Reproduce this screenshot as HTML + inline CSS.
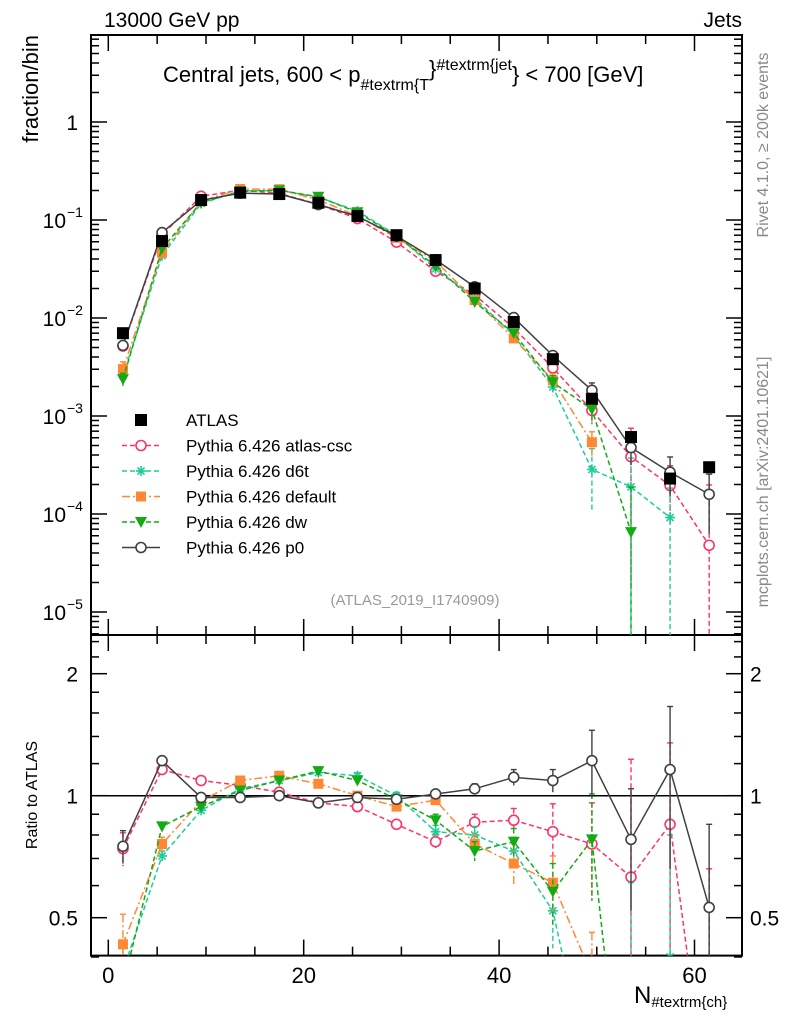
<!DOCTYPE html>
<html><head><meta charset="utf-8"><style>
html,body{margin:0;padding:0;background:#fff;overflow:hidden;width:786px;height:1024px}
svg{display:block;font-family:"Liberation Sans",sans-serif}
</style></head><body>
<svg id="c" width="786" height="1024" viewBox="0 0 786 1024"></svg>
<script>
const bins=[1.5,5.5,9.5,13.5,17.5,21.5,25.5,29.5,33.5,37.5,41.5,45.5,49.5,53.5,57.5,61.5];
const atlas=[7.0e-3,0.061,0.16,0.19,0.184,0.15,0.11,0.07,0.039,0.020,0.0091,0.0038,0.0015,6.1e-4,2.3e-4,3.0e-4];
const rCsc=[0.74,1.16,1.09,1.06,1.02,0.96,0.94,0.85,0.77,0.86,0.87,0.815,0.76,0.63,0.85,0.16];
const eCsc=[0.07,0.02,0.01,0.01,0.01,0.01,0.01,0.02,0.03,0.04,0.06,0.14,0.2,0.6,0.5,0.5];
const rD6t=[0.37,0.71,0.92,1.04,1.09,1.14,1.12,1.0,0.815,0.80,0.73,0.52,0.19,0.31,0.40,null];
const eD6t=[0.05,0.02,0.01,0.01,0.01,0.01,0.02,0.02,0.03,0.04,0.06,0.1,0.12,0.3,0.4,0];
const rDef=[0.43,0.76,0.97,1.09,1.12,1.07,1.0,0.94,0.975,0.76,0.68,0.61,0.36,null,null,null];
const eDef=[0.08,0.03,0.01,0.01,0.01,0.01,0.02,0.02,0.03,0.04,0.08,0.1,0.1,0,0,0];
const rDw=[0.34,0.84,0.94,1.03,1.09,1.15,1.09,0.98,0.87,0.73,0.77,0.58,0.78,0.107,null,null];
const eDw=[0.05,0.02,0.01,0.01,0.01,0.01,0.02,0.02,0.03,0.04,0.06,0.1,0.23,0.2,0,0];
const rP0=[0.75,1.22,0.99,0.99,1.0,0.96,0.99,0.98,1.01,1.04,1.11,1.09,1.22,0.78,1.16,0.53];
const eP0=[0.07,0.02,0.01,0.01,0.01,0.01,0.01,0.01,0.02,0.03,0.05,0.07,0.23,0.26,0.5,0.32];
const xTicks=[0,20,40,60];
const yExp=[0,-1,-2,-3,-4,-5];
const rTicks=[0.5,1,2];

const NS="http://www.w3.org/2000/svg";
const svg=document.getElementById('c');
const L=91,R=742,T=35,MB=635,RB=955.6;
const X=v=>108.3+9.77*v;
const Y=v=>122-98*Math.log10(v);
const YR=v=>795.7-122*Math.log2(v);
function el(tag,a,parent){const e=document.createElementNS(NS,tag);for(const k in a)e.setAttribute(k,a[k]);(parent||svg).appendChild(e);return e;}
function txt(s,a,parent){const e=el('text',a,parent);e.textContent=s;return e;}

const defs=el('defs',{});
const c1=el('clipPath',{id:'cm'},defs);el('rect',{x:L,y:T,width:R-L,height:MB-T},c1);
const c2=el('clipPath',{id:'cr'},defs);el('rect',{x:L,y:MB,width:R-L,height:RB-MB},c2);

const f1=el('rect',{x:L,y:T,width:R-L,height:MB-T,fill:'none',stroke:'#000','stroke-width':2});


const f2=el('rect',{x:L,y:MB,width:R-L,height:RB-MB,fill:'none',stroke:'#000','stroke-width':2});



for(let v=0;v<=64;v+=5){
  const major=v%20===0,len=major?16:9,x=X(v);
  for(const [yb,yt] of [[MB,T],[RB,MB]]){
    el('line',{x1:x,x2:x,y1:yb,y2:yb-len,stroke:'#000','stroke-width':1.5});
    el('line',{x1:x,x2:x,y1:yt,y2:yt+len,stroke:'#000','stroke-width':1.5});
  }
}
xTicks.forEach(v=>{const t=txt(String(v),{x:X(v),y:983,'font-size':22,'text-anchor':'middle'});

});
const xt=txt('N',{x:634,y:1003,'font-size':24});


el('tspan',{'font-size':15,dy:4},xt).textContent='#textrm{ch}';

for(let e=1;e>=-6;e--){
  for(let m=1;m<10;m++){
    const v=m*Math.pow(10,e),y=Y(v);
    if(y<T||y>MB)continue;
    const len=m===1?16:8;
    el('line',{x1:L,x2:L+len,y1:y,y2:y,stroke:'#000','stroke-width':1.5});
    el('line',{x1:R,x2:R-len,y1:y,y2:y,stroke:'#000','stroke-width':1.5});
  }
}
yExp.forEach(e=>{
  const y=Y(Math.pow(10,e));
  let t;
  if(e===0){t=txt('1',{x:78,y:y+8,'font-size':21,'text-anchor':'end'});}
  else{t=txt('10',{x:66,y:y+8,'font-size':21,'text-anchor':'end'});
    const s=txt('−'+Math.abs(e),{x:67,y:y-3,'font-size':14});
    
    }
  
  
});
const rMinor=[0.4,0.5,0.6,0.7,0.8,0.9,1,1.2,1.4,1.6,1.8,2,2.2,2.4];
rMinor.forEach(v=>{const y=YR(v);const len=rTicks.includes(v)?16:8;
  el('line',{x1:L,x2:L+len,y1:y,y2:y,stroke:'#000','stroke-width':1.5});
  el('line',{x1:R,x2:R-len,y1:y,y2:y,stroke:'#000','stroke-width':1.5});});
rTicks.forEach(v=>{
  const a=txt(String(v),{x:78,y:YR(v)+8,'font-size':21,'text-anchor':'end'});
  
  
  const b=txt(String(v),{x:750,y:YR(v)+8,'font-size':21});
  
  
});
el('line',{x1:L,x2:R,y1:YR(1),y2:YR(1),stroke:'#000','stroke-width':1.5});

const series=[
 {name:'atlas-csc',label:'Pythia 6.426 atlas-csc',r:rCsc,e:eCsc,col:'#ff3366',dash:'5,3',mk:'ocircle'},
 {name:'d6t',label:'Pythia 6.426 d6t',r:rD6t,e:eD6t,col:'#1fcc99',dash:'5,3',mk:'star'},
 {name:'default',label:'Pythia 6.426 default',r:rDef,e:eDef,col:'#ff8833',dash:'8,3,2,3',mk:'square'},
 {name:'dw',label:'Pythia 6.426 dw',r:rDw,e:eDw,col:'#14aa14',dash:'5,3',mk:'tri'},
 {name:'p0',label:'Pythia 6.426 p0',r:rP0,e:eP0,col:'#404040',dash:'',mk:'ocircle'}
];
function marker(g,type,x,y,col){
  if(type==='ocircle')return el('circle',{cx:x,cy:y,r:5,fill:'#fff',stroke:col,'stroke-width':1.6},g);
  if(type==='square')return el('rect',{x:x-5,y:y-5,width:10,height:10,fill:col},g);
  if(type==='bsquare')return el('rect',{x:x-6,y:y-6,width:12,height:12,fill:col},g);
  if(type==='tri')return el('polygon',{points:`${x-6},${y-5} ${x+6},${y-5} ${x},${y+6}`,fill:col},g);
  if(type==='star'){const gg=el('g',{stroke:col,'stroke-width':1.6},g);
    for(const a of [0,45,90,135]){const r=a*Math.PI/180;el('line',{x1:x-5*Math.cos(r),y1:y-5*Math.sin(r),x2:x+5*Math.cos(r),y2:y+5*Math.sin(r)},gg);}return gg;}
}
function draw(panel){
  const clip=panel==='main'?'url(#cm)':'url(#cr)';
  const bottom=panel==='main'?MB:RB;
  series.forEach(s=>{
    const g=el('g',{'clip-path':clip});
    
    
    const pts=[];
    bins.forEach((b,i)=>{
      const r=s.r[i];if(r==null)return;
      const v=panel==='main'?r*atlas[i]:r;
      const lo=panel==='main'?(r-s.e[i])*atlas[i]:r-s.e[i];
      const hi=panel==='main'?(r+s.e[i])*atlas[i]:r+s.e[i];
      const f=panel==='main'?Y:YR;
      const x=X(b),y=f(v);
      pts.push([x,y]);
      const yl=lo>0?f(lo):bottom+5;
      el('line',{x1:x,x2:x,y1:f(hi),y2:yl,stroke:s.col,'stroke-width':1.4,'stroke-dasharray':s.dash},g);
      el('line',{x1:x-3,x2:x+3,y1:f(hi),y2:f(hi),stroke:s.col,'stroke-width':1.4},g);
    });
    el('polyline',{points:pts.map(p=>p.join(',')).join(' '),fill:'none',stroke:s.col,'stroke-width':1.5,'stroke-dasharray':s.dash},g);
    pts.forEach(p=>{const m=marker(g,s.mk,p[0],p[1],s.col);
      
      });
  });
}
const ga=el('g',{'clip-path':'url(#cm)'});


draw('main');
bins.forEach((b,i)=>{const m=marker(ga,'bsquare',X(b),Y(atlas[i]),'#000');
  
  });
svg.appendChild(ga);
draw('ratio');

const lg=el('g',{});


const rows=[{label:'ATLAS',mk:'bsquare',col:'#000',dash:null}].concat(series);
rows.forEach((s,i)=>{
  const y=420+i*25.5;
  const ge=el('g',{},lg);
  
  
  if(s.dash!==null)el('line',{x1:122,x2:160,y1:y,y2:y,stroke:s.col,'stroke-width':1.5,'stroke-dasharray':s.dash},ge);
  marker(ge,s.mk,141,y,s.col);
  txt(s.label,{x:186,y:y+6,'font-size':17},ge);
});

const t1=txt('13000 GeV pp',{x:104,y:27,'font-size':21});


const t2=txt('Jets',{x:742,y:27,'font-size':21,'text-anchor':'end'});


const t3=txt('Central jets, 600 < p',{x:163,y:82,'font-size':22});


el('tspan',{'font-size':16,dy:8},t3).textContent='#textrm{T';
el('tspan',{'font-size':22,dy:-14},t3).textContent='}';
el('tspan',{'font-size':16,dy:-6},t3).textContent='#textrm{jet';
el('tspan',{'font-size':22,dy:12},t3).textContent='} < 700 [GeV]';
const t4=txt('(ATLAS_2019_I1740909)',{x:415,y:605,'font-size':15,fill:'#999','text-anchor':'middle'});


const t5=txt('fraction/bin',{x:0,y:0,'font-size':22,'text-anchor':'end',transform:'translate(38,35) rotate(-90)'});


const t6=txt('Ratio to ATLAS',{x:0,y:0,'font-size':16,'text-anchor':'middle',transform:'translate(37,795) rotate(-90)'});


const t7=txt('Rivet 4.1.0, ≥ 200k events',{x:0,y:0,'font-size':16,fill:'#888','text-anchor':'middle',transform:'translate(768,145) rotate(-90)'});


const t8=txt('mcplots.cern.ch [arXiv:2401.10621]',{x:0,y:0,'font-size':16,fill:'#888','text-anchor':'middle',transform:'translate(768,482) rotate(-90)'});


</script>
</body></html>
